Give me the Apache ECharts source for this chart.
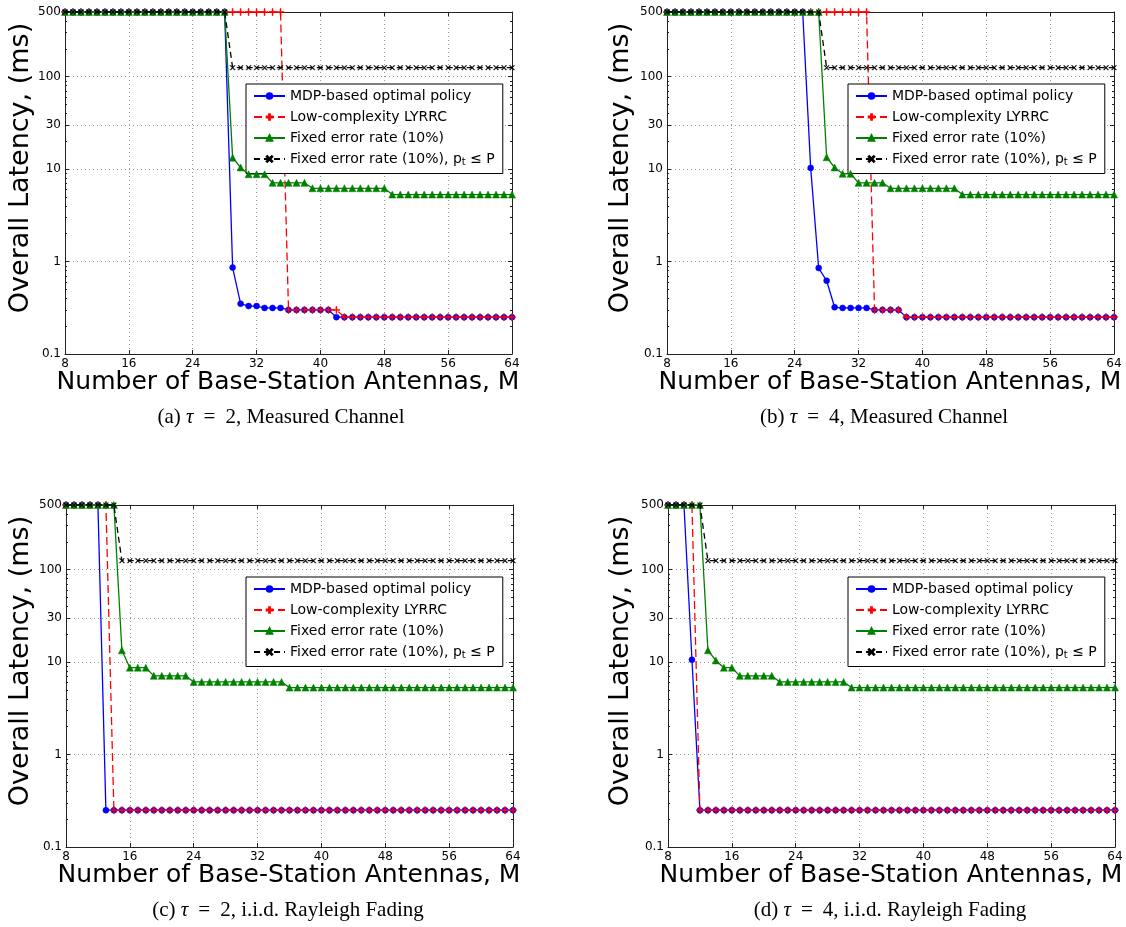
<!DOCTYPE html>
<html>
<head>
<meta charset="utf-8">
<title>Overall latency vs. number of base-station antennas</title>
<script src="https://cdn.jsdelivr.net/npm/echarts@6/dist/echarts.min.js"></script>
<style>
  html, body { margin: 0; padding: 0; background: #ffffff; }
  #chart { width: 1126px; height: 927px; }
</style>
</head>
<body>
<div id="chart"></div>
<script>
// Number of base-station antennas M (x axis)
const antennas = [
  8, 9, 10, 11, 12, 13, 14, 15, 16, 17,
  18, 19, 20, 21, 22, 23, 24, 25, 26, 27,
  28, 29, 30, 31, 32, 33, 34, 35, 36, 37,
  38, 39, 40, 41, 42, 43, 44, 45, 46, 47,
  48, 49, 50, 51, 52, 53, 54, 55, 56, 57,
  58, 59, 60, 61, 62, 63, 64
];

// Y axis (log) tick values
const yMajorTicks = [0.1, 1, 10, 30, 100, 500];
const yMinorTicks = [0.2, 0.3, 0.4, 0.5, 0.6, 0.7, 0.8, 0.9,
  2, 3, 4, 5, 6, 7, 8, 9, 20, 40, 50, 60, 70, 80, 90, 200, 300, 400];
const xTicks = [8, 16, 24, 32, 40, 48, 56, 64];

// Series names
const seriesNames = [
  'MDP-based optimal policy',
  'Low-complexity LYRRC',
  'Fixed error rate (10%)',
  'Fixed error rate (10%), pt ≤ P'
];

// (a) tau = 2, measured channel — overall latency (ms)
const mdpA = [
  500, 500, 500, 500, 500, 500, 500, 500, 500, 500,
  500, 500, 500, 500, 500, 500, 500, 500, 500, 500,
  500, 0.86, 0.35, 0.33, 0.33, 0.315, 0.315, 0.315, 0.30, 0.30,
  0.30, 0.30, 0.30, 0.30, 0.25, 0.25, 0.25, 0.25, 0.25, 0.25,
  0.25, 0.25, 0.25, 0.25, 0.25, 0.25, 0.25, 0.25, 0.25, 0.25,
  0.25, 0.25, 0.25, 0.25, 0.25, 0.25, 0.25
];
const lyrrcA = [
  500, 500, 500, 500, 500, 500, 500, 500, 500, 500,
  500, 500, 500, 500, 500, 500, 500, 500, 500, 500,
  500, 500, 500, 500, 500, 500, 500, 500, 0.30, 0.30,
  0.30, 0.30, 0.30, 0.30, 0.30, 0.25, 0.25, 0.25, 0.25, 0.25,
  0.25, 0.25, 0.25, 0.25, 0.25, 0.25, 0.25, 0.25, 0.25, 0.25,
  0.25, 0.25, 0.25, 0.25, 0.25, 0.25, 0.25
];
const fixedA = [
  500, 500, 500, 500, 500, 500, 500, 500, 500, 500,
  500, 500, 500, 500, 500, 500, 500, 500, 500, 500,
  500, 13.3, 10.4, 8.8, 8.8, 8.8, 7.1, 7.1, 7.1, 7.1,
  7.1, 6.2, 6.2, 6.2, 6.2, 6.2, 6.2, 6.2, 6.2, 6.2,
  6.2, 5.3, 5.3, 5.3, 5.3, 5.3, 5.3, 5.3, 5.3, 5.3,
  5.3, 5.3, 5.3, 5.3, 5.3, 5.3, 5.3
];
const powerA = [
  500, 500, 500, 500, 500, 500, 500, 500, 500, 500,
  500, 500, 500, 500, 500, 500, 500, 500, 500, 500,
  500, 125, 125, 125, 125, 125, 125, 125, 125, 125,
  125, 125, 125, 125, 125, 125, 125, 125, 125, 125,
  125, 125, 125, 125, 125, 125, 125, 125, 125, 125,
  125, 125, 125, 125, 125, 125, 125
];

// (b) tau = 4, measured channel
const mdpB = [
  500, 500, 500, 500, 500, 500, 500, 500, 500, 500,
  500, 500, 500, 500, 500, 500, 500, 500, 10.3, 0.85,
  0.62, 0.32, 0.315, 0.315, 0.315, 0.315, 0.30, 0.30, 0.30, 0.30,
  0.25, 0.25, 0.25, 0.25, 0.25, 0.25, 0.25, 0.25, 0.25, 0.25,
  0.25, 0.25, 0.25, 0.25, 0.25, 0.25, 0.25, 0.25, 0.25, 0.25,
  0.25, 0.25, 0.25, 0.25, 0.25, 0.25, 0.25
];
const lyrrcB = [
  500, 500, 500, 500, 500, 500, 500, 500, 500, 500,
  500, 500, 500, 500, 500, 500, 500, 500, 500, 500,
  500, 500, 500, 500, 500, 500, 0.30, 0.30, 0.30, 0.30,
  0.25, 0.25, 0.25, 0.25, 0.25, 0.25, 0.25, 0.25, 0.25, 0.25,
  0.25, 0.25, 0.25, 0.25, 0.25, 0.25, 0.25, 0.25, 0.25, 0.25,
  0.25, 0.25, 0.25, 0.25, 0.25, 0.25, 0.25
];
const fixedB = [
  500, 500, 500, 500, 500, 500, 500, 500, 500, 500,
  500, 500, 500, 500, 500, 500, 500, 500, 500, 500,
  13.4, 10.4, 8.9, 8.9, 7.1, 7.1, 7.1, 7.1, 6.2, 6.2,
  6.2, 6.2, 6.2, 6.2, 6.2, 6.2, 6.2, 5.3, 5.3, 5.3,
  5.3, 5.3, 5.3, 5.3, 5.3, 5.3, 5.3, 5.3, 5.3, 5.3,
  5.3, 5.3, 5.3, 5.3, 5.3, 5.3, 5.3
];
const powerB = [
  500, 500, 500, 500, 500, 500, 500, 500, 500, 500,
  500, 500, 500, 500, 500, 500, 500, 500, 500, 500,
  125, 125, 125, 125, 125, 125, 125, 125, 125, 125,
  125, 125, 125, 125, 125, 125, 125, 125, 125, 125,
  125, 125, 125, 125, 125, 125, 125, 125, 125, 125,
  125, 125, 125, 125, 125, 125, 125
];

// (c) tau = 2, i.i.d. Rayleigh fading
const mdpC = [
  500, 500, 500, 500, 500, 0.25, 0.25, 0.25, 0.25, 0.25,
  0.25, 0.25, 0.25, 0.25, 0.25, 0.25, 0.25, 0.25, 0.25, 0.25,
  0.25, 0.25, 0.25, 0.25, 0.25, 0.25, 0.25, 0.25, 0.25, 0.25,
  0.25, 0.25, 0.25, 0.25, 0.25, 0.25, 0.25, 0.25, 0.25, 0.25,
  0.25, 0.25, 0.25, 0.25, 0.25, 0.25, 0.25, 0.25, 0.25, 0.25,
  0.25, 0.25, 0.25, 0.25, 0.25, 0.25, 0.25
];
const lyrrcC = [
  500, 500, 500, 500, 500, 500, 0.25, 0.25, 0.25, 0.25,
  0.25, 0.25, 0.25, 0.25, 0.25, 0.25, 0.25, 0.25, 0.25, 0.25,
  0.25, 0.25, 0.25, 0.25, 0.25, 0.25, 0.25, 0.25, 0.25, 0.25,
  0.25, 0.25, 0.25, 0.25, 0.25, 0.25, 0.25, 0.25, 0.25, 0.25,
  0.25, 0.25, 0.25, 0.25, 0.25, 0.25, 0.25, 0.25, 0.25, 0.25,
  0.25, 0.25, 0.25, 0.25, 0.25, 0.25, 0.25
];
const fixedC = [
  500, 500, 500, 500, 500, 500, 500, 13.4, 8.7, 8.7,
  8.7, 7.1, 7.1, 7.1, 7.1, 7.1, 6.1, 6.1, 6.1, 6.1,
  6.1, 6.1, 6.1, 6.1, 6.1, 6.1, 6.1, 6.1, 5.3, 5.3,
  5.3, 5.3, 5.3, 5.3, 5.3, 5.3, 5.3, 5.3, 5.3, 5.3,
  5.3, 5.3, 5.3, 5.3, 5.3, 5.3, 5.3, 5.3, 5.3, 5.3,
  5.3, 5.3, 5.3, 5.3, 5.3, 5.3, 5.3
];
const powerC = [
  500, 500, 500, 500, 500, 500, 500, 125, 125, 125,
  125, 125, 125, 125, 125, 125, 125, 125, 125, 125,
  125, 125, 125, 125, 125, 125, 125, 125, 125, 125,
  125, 125, 125, 125, 125, 125, 125, 125, 125, 125,
  125, 125, 125, 125, 125, 125, 125, 125, 125, 125,
  125, 125, 125, 125, 125, 125, 125
];

// (d) tau = 4, i.i.d. Rayleigh fading
const mdpD = [
  500, 500, 500, 10.6, 0.25, 0.25, 0.25, 0.25, 0.25, 0.25,
  0.25, 0.25, 0.25, 0.25, 0.25, 0.25, 0.25, 0.25, 0.25, 0.25,
  0.25, 0.25, 0.25, 0.25, 0.25, 0.25, 0.25, 0.25, 0.25, 0.25,
  0.25, 0.25, 0.25, 0.25, 0.25, 0.25, 0.25, 0.25, 0.25, 0.25,
  0.25, 0.25, 0.25, 0.25, 0.25, 0.25, 0.25, 0.25, 0.25, 0.25,
  0.25, 0.25, 0.25, 0.25, 0.25, 0.25, 0.25
];
const lyrrcD = [
  500, 500, 500, 500, 0.25, 0.25, 0.25, 0.25, 0.25, 0.25,
  0.25, 0.25, 0.25, 0.25, 0.25, 0.25, 0.25, 0.25, 0.25, 0.25,
  0.25, 0.25, 0.25, 0.25, 0.25, 0.25, 0.25, 0.25, 0.25, 0.25,
  0.25, 0.25, 0.25, 0.25, 0.25, 0.25, 0.25, 0.25, 0.25, 0.25,
  0.25, 0.25, 0.25, 0.25, 0.25, 0.25, 0.25, 0.25, 0.25, 0.25,
  0.25, 0.25, 0.25, 0.25, 0.25, 0.25, 0.25
];
const fixedD = [
  500, 500, 500, 500, 500, 13.4, 10.4, 8.7, 8.7, 7.1,
  7.1, 7.1, 7.1, 7.1, 6.1, 6.1, 6.1, 6.1, 6.1, 6.1,
  6.1, 6.1, 6.1, 5.3, 5.3, 5.3, 5.3, 5.3, 5.3, 5.3,
  5.3, 5.3, 5.3, 5.3, 5.3, 5.3, 5.3, 5.3, 5.3, 5.3,
  5.3, 5.3, 5.3, 5.3, 5.3, 5.3, 5.3, 5.3, 5.3, 5.3,
  5.3, 5.3, 5.3, 5.3, 5.3, 5.3, 5.3
];
const powerD = [
  500, 500, 500, 500, 500, 125, 125, 125, 125, 125,
  125, 125, 125, 125, 125, 125, 125, 125, 125, 125,
  125, 125, 125, 125, 125, 125, 125, 125, 125, 125,
  125, 125, 125, 125, 125, 125, 125, 125, 125, 125,
  125, 125, 125, 125, 125, 125, 125, 125, 125, 125,
  125, 125, 125, 125, 125, 125, 125
];

// Sub-figure captions: [label, tau, channel]
const captionLabels = ['(a)', '(b)', '(c)', '(d)'];
const captionTau = [2, 4, 2, 4];
const captionChannel = ['Measured Channel', 'Measured Channel', 'i.i.d. Rayleigh Fading', 'i.i.d. Rayleigh Fading'];

const panelData = [
  [mdpA, lyrrcA, fixedA, powerA],
  [mdpB, lyrrcB, fixedB, powerB],
  [mdpC, lyrrcC, fixedC, powerC],
  [mdpD, lyrrcD, fixedD, powerD]
];

// Layout of the four panels
const panels = [
  { left: 65, top: 12, width: 447, height: 342, legendLeft: 246, legendTop: 84, xTitleX: 288, xTitleY: 382, capX: 281, capY: 417, yTitleX: 21, yTitleY: 168 },
  { left: 667, top: 12, width: 447, height: 342, legendLeft: 848, legendTop: 84, xTitleX: 890, xTitleY: 382, capX: 884, capY: 417, yTitleX: 621, yTitleY: 168 },
  { left: 66, top: 505, width: 447, height: 342, legendLeft: 246, legendTop: 577, xTitleX: 289, xTitleY: 875, capX: 288, capY: 910, yTitleX: 21, yTitleY: 661 },
  { left: 668, top: 505, width: 447, height: 342, legendLeft: 848, legendTop: 577, xTitleX: 891, xTitleY: 875, capX: 890, capY: 910, yTitleX: 621, yTitleY: 661 }
];

const PLUS = 'path://M4.3,0H5.7V4.3H10V5.7H5.7V10H4.3V5.7H0V4.3H4.3Z';
const CROSS = 'path://M0,1L1,0L5,4L9,0L10,1L6,5L10,9L9,10L5,6L1,10L0,9L4,5Z';

const seriesStyles = [
  { color: '#0000ff', symbol: 'circle', symbolSize: 6, lineType: 'solid' },
  { color: '#ff0000', symbol: PLUS, symbolSize: 7, lineType: [8, 4] },
  { color: '#008000', symbol: 'triangle', symbolSize: 7, lineType: 'solid' },
  { color: '#000000', symbol: CROSS, symbolSize: 5, lineType: [6, 4] }
];

const FONT = 'DejaVu Sans';
const SERIF = 'Liberation Serif';
const yMin = 0.1, yMax = 500;

const grid = [], xAxis = [], yAxis = [], series = [], legend = [], graphic = [];

panels.forEach((p, k) => {
  grid.push({ left: p.left, top: p.top, width: p.width, height: p.height, containLabel: false });

  // bottom x axis with labels
  xAxis.push({
    type: 'value', gridIndex: k, position: 'bottom', min: 8, max: 64, interval: 8,
    axisLine: { show: true, lineStyle: { color: '#222', width: 1 } },
    axisTick: { show: true, inside: true, length: 4, lineStyle: { color: '#222' } },
    axisLabel: { show: true, color: '#000', fontSize: 12, fontFamily: FONT, margin: 4 },
    splitLine: { show: true, lineStyle: { type: [1, 3], color: '#9a9a9a', width: 1 } }
  });
  // top x axis (frame + ticks)
  xAxis.push({
    type: 'value', gridIndex: k, position: 'top', min: 8, max: 64, interval: 8,
    axisLine: { show: true, lineStyle: { color: '#222', width: 1 } },
    axisTick: { show: true, inside: true, length: 4, lineStyle: { color: '#222' } },
    axisLabel: { show: false },
    splitLine: { show: false }
  });

  // left y axis, major ticks and labels
  yAxis.push({
    type: 'log', logBase: 10, gridIndex: k, position: 'left', min: yMin, max: yMax,
    axisLine: { show: true, lineStyle: { color: '#222', width: 1 } },
    axisTick: { show: true, inside: true, length: 4, customValues: yMajorTicks, lineStyle: { color: '#222' } },
    axisLabel: {
      show: true, customValues: yMajorTicks, color: '#000', fontSize: 12, fontFamily: FONT, margin: 4,
      formatter: v => String(Math.round(v * 10) / 10)
    },
    splitLine: { show: true, lineStyle: { type: [1, 3], color: '#9a9a9a', width: 1 } }
  });
  // right y axis, major ticks
  yAxis.push({
    type: 'log', logBase: 10, gridIndex: k, position: 'right', min: yMin, max: yMax,
    axisLine: { show: true, lineStyle: { color: '#222', width: 1 } },
    axisTick: { show: true, inside: true, length: 4, customValues: yMajorTicks, lineStyle: { color: '#222' } },
    axisLabel: { show: false },
    splitLine: { show: false }
  });
  // left and right minor ticks
  ['left', 'right'].forEach(pos => {
    yAxis.push({
      type: 'log', logBase: 10, gridIndex: k, position: pos, min: yMin, max: yMax,
      axisLine: { show: false },
      axisTick: { show: true, inside: true, length: 2, customValues: yMinorTicks, lineStyle: { color: '#222' } },
      axisLabel: { show: false },
      splitLine: { show: false }
    });
  });

  panelData[k].forEach((values, s) => {
    const st = seriesStyles[s];
    series.push({
      name: seriesNames[s],
      type: 'line',
      xAxisIndex: 2 * k,
      yAxisIndex: 4 * k,
      data: antennas.map((m, i) => [m, values[i]]),
      symbol: st.symbol,
      symbolSize: st.symbolSize,
      showSymbol: true,
      clip: false,
      animation: false,
      itemStyle: { color: st.color, borderColor: st.color, borderWidth: 0.5 },
      lineStyle: { color: st.color, width: 1.3, type: st.lineType },
      emphasis: { disabled: true },
      z: 2 + s
    });
  });

  legend.push({
    orient: 'vertical',
    left: p.legendLeft,
    top: p.legendTop,
    data: seriesNames,
    selectedMode: false,
    itemWidth: 31,
    itemHeight: 7,
    itemGap: 7,
    padding: [5, 8, 6, 7],
    borderColor: '#000',
    borderWidth: 1,
    borderRadius: 0,
    backgroundColor: '#ffffff',
    textStyle: {
      fontSize: 14, fontFamily: FONT, color: '#000',
      rich: {
        t: { fontSize: 14, fontFamily: FONT, color: '#000' },
        s: { fontSize: 10, fontFamily: FONT, color: '#000', padding: [7, 0, 0, 0] }
      }
    },
    formatter: name => name === seriesNames[3]
      ? '{t|Fixed error rate (10%), p}{s|t}{t| ≤ P}'
      : name
  });

  // axis titles and sub-figure caption
  graphic.push({
    type: 'text', x: p.xTitleX, y: p.xTitleY, silent: true,
    style: { text: 'Number of Base-Station Antennas, M', fontSize: 25, fontFamily: FONT, fill: '#000', align: 'center', verticalAlign: 'middle' }
  });
  graphic.push({
    type: 'text', x: p.yTitleX, y: p.yTitleY, rotation: Math.PI / 2, silent: true,
    style: { text: 'Overall Latency, (ms)', fontSize: 27, fontFamily: FONT, fill: '#000', align: 'center', verticalAlign: 'middle' }
  });
  graphic.push({
    type: 'text', x: p.capX, y: p.capY, silent: true,
    style: {
      text: captionLabels[k] + ' {i|τ}{m|=}' + captionTau[k] + ', ' + captionChannel[k],
      fontSize: 21, fontFamily: SERIF, fill: '#000', align: 'center', verticalAlign: 'middle',
      rich: {
        i: { fontStyle: 'italic', fontSize: 21, fontFamily: SERIF, fill: '#000' },
        m: { fontSize: 21, fontFamily: SERIF, fill: '#000', padding: [0, 10, 0, 10] }
      }
    }
  });
});

const chart = echarts.init(document.getElementById('chart'), null, { renderer: 'canvas' });
chart.setOption({
  animation: false,
  backgroundColor: '#ffffff',
  grid, xAxis, yAxis, series, legend, graphic
});
</script>
</body>
</html>
